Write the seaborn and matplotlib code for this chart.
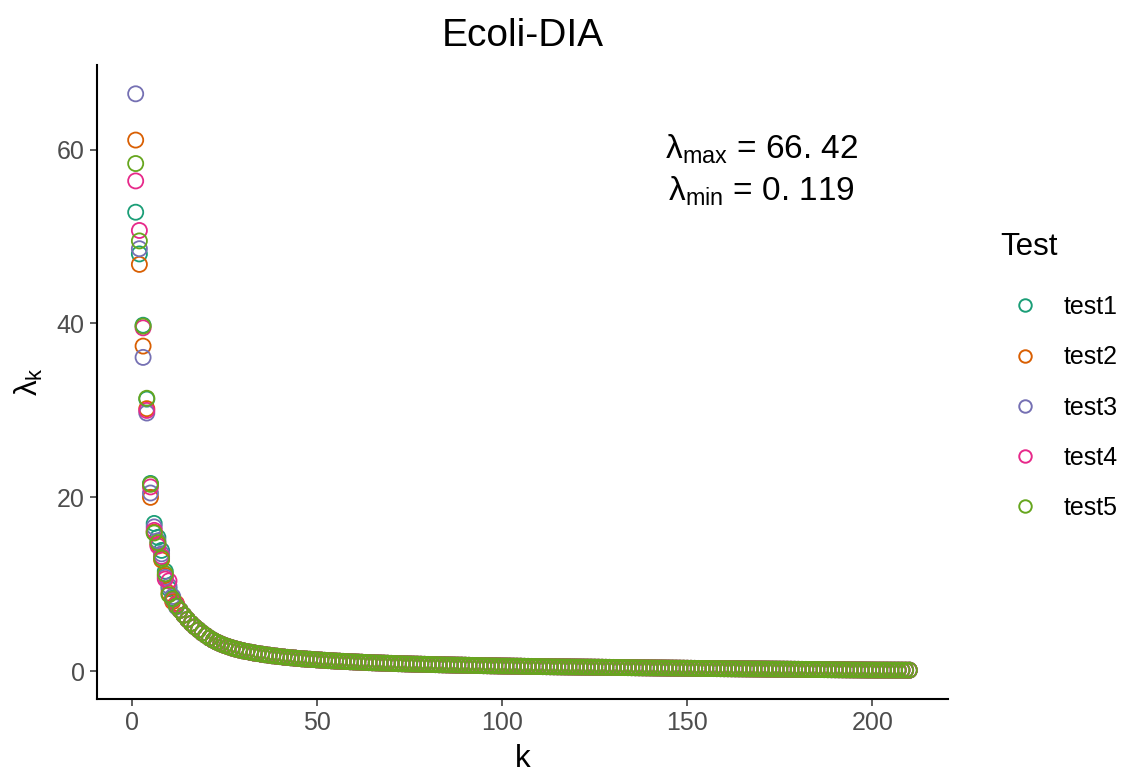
import matplotlib
matplotlib.use("Agg")
import matplotlib.pyplot as plt
from matplotlib.lines import Line2D
import numpy as np
import pandas as pd
import seaborn as sns

# ---- data -----------------------------------------------------------------
tests = ["test1", "test2", "test3", "test4", "test5"]
colors = ["#1B9E77", "#D95F02", "#7570B3", "#E7298A", "#66A61E"]

# leading eigenvalues (k = 1..12), one list per test
head_test1 = [52.8, 48.0, 39.8, 31.3, 21.6, 17.0, 15.4, 13.9, 11.5, 9.5, 8.4, 7.6]
head_test2 = [61.1, 46.8, 37.4, 30.2, 20.0, 16.0, 14.6, 12.8, 11.0, 9.0, 8.0, 7.8]
head_test3 = [66.42, 48.6, 36.1, 29.7, 20.5, 16.6, 15.0, 13.5, 10.8, 9.8, 8.6, 7.4]
head_test4 = [56.4, 50.7, 39.5, 30.0, 21.2, 16.2, 14.4, 13.2, 10.6, 10.4, 8.2, 7.7]
head_test5 = [58.4, 49.5, 39.7, 31.4, 21.5, 15.9, 14.8, 13.0, 11.2, 8.8, 8.3, 7.5]

# remaining eigenvalues (k = 13..210), common to all tests
tail_vals = [
    7.0, 6.45, 5.95, 5.5, 5.1, 4.75, 4.4, 4.1,                         # 13-20
    3.80, 3.55, 3.33, 3.14, 2.97, 2.82, 2.68, 2.56, 2.45, 2.35,        # 21-30
    2.26, 2.18, 2.10, 2.03, 1.96, 1.90, 1.84, 1.78, 1.73, 1.68,        # 31-40
    1.63, 1.59, 1.55, 1.51, 1.47, 1.43, 1.40, 1.37, 1.34, 1.31,        # 41-50
    1.28, 1.25, 1.22, 1.20, 1.17, 1.15, 1.13, 1.11, 1.09, 1.07,        # 51-60
    1.05, 1.03, 1.01, 0.99, 0.975, 0.96, 0.945, 0.93, 0.915, 0.90,     # 61-70
    0.885, 0.87, 0.86, 0.845, 0.835, 0.82, 0.81, 0.80, 0.79, 0.78,     # 71-80
    0.77, 0.76, 0.75, 0.74, 0.73, 0.72, 0.71, 0.70, 0.695, 0.685,      # 81-90
    0.675, 0.665, 0.66, 0.65, 0.64, 0.635, 0.625, 0.62, 0.61, 0.60,    # 91-100
    0.595, 0.59, 0.58, 0.575, 0.57, 0.56, 0.555, 0.55, 0.545, 0.54,    # 101-110
    0.53, 0.525, 0.52, 0.515, 0.51, 0.505, 0.50, 0.495, 0.49, 0.485,   # 111-120
    0.48, 0.475, 0.47, 0.465, 0.46, 0.455, 0.45, 0.445, 0.44, 0.435,   # 121-130
    0.43, 0.425, 0.42, 0.415, 0.41, 0.405, 0.40, 0.395, 0.39, 0.385,   # 131-140
    0.38, 0.375, 0.37, 0.365, 0.36, 0.355, 0.35, 0.345, 0.34, 0.335,   # 141-150
    0.33, 0.325, 0.32, 0.318, 0.314, 0.31, 0.305, 0.30, 0.297, 0.293,  # 151-160
    0.29, 0.286, 0.282, 0.278, 0.274, 0.27, 0.266, 0.262, 0.258, 0.254,  # 161-170
    0.25, 0.246, 0.242, 0.238, 0.234, 0.23, 0.226, 0.222, 0.218, 0.214,  # 171-180
    0.21, 0.206, 0.202, 0.198, 0.194, 0.19, 0.186, 0.182, 0.178, 0.174,  # 181-190
    0.17, 0.166, 0.162, 0.158, 0.154, 0.15, 0.146, 0.142, 0.138, 0.134,  # 191-200
    0.131, 0.13, 0.129, 0.128, 0.127, 0.126, 0.125, 0.123, 0.121, 0.119, # 201-210
]

heads = [head_test1, head_test2, head_test3, head_test4, head_test5]

lambda_max = "66. 42"
lambda_min = "0. 119"

# ---- long-form table ----------------------------------------------------------
frames = []
for name, head in zip(tests, heads):
    vals = head + tail_vals
    frames.append(pd.DataFrame({"k": np.arange(1, len(vals) + 1),
                                "lam": vals, "Test": name}))
df = pd.concat(frames, ignore_index=True)

# ---- style ----------------------------------------------------------------------
sns.set_theme(style="ticks")
plt.rcParams["font.family"] = ["Liberation Sans", "DejaVu Sans"]
plt.rcParams["mathtext.fontset"] = "custom"
plt.rcParams["mathtext.rm"] = "Liberation Sans"
plt.rcParams["mathtext.it"] = "Liberation Sans:italic"
plt.rcParams["mathtext.sf"] = "Liberation Sans"

fig = plt.figure(figsize=(11.27, 7.75), dpi=100)
ax = fig.add_axes([97 / 1127, 1 - 699 / 775, (948 - 97) / 1127, (699 - 65) / 775])

sns.scatterplot(data=df, x="k", y="lam", hue="Test", hue_order=tests,
                palette=colors, s=118, linewidth=1.3, ax=ax, legend=False)

# open circles: outline in the hue colour, no fill
coll = ax.collections[0]
fc = coll.get_facecolors()
coll.set_edgecolors(fc)
coll.set_facecolors("none")

# ggplot-like 5% expansion
ax.set_xlim(1 - 0.05 * 209, 210 + 0.05 * 209)
ax.set_ylim(0.119 - 0.05 * 66.3, 66.42 + 0.05 * 66.3)
ax.set_xticks([0, 50, 100, 150, 200])
ax.set_yticks([0, 20, 40, 60])

for side in ["top", "right"]:
    ax.spines[side].set_visible(False)
for side in ["left", "bottom"]:
    ax.spines[side].set_color("black")
    ax.spines[side].set_linewidth(1.5)
ax.tick_params(axis="both", length=5, width=1.1, color="#333333",
               labelsize=18, labelcolor="#4D4D4D", pad=4)

ax.set_xlabel("k", fontsize=22.5, color="black", labelpad=6)
ax.set_ylabel(r"λ$_\mathrm{k}$", fontsize=22.5, color="black", labelpad=8)
ax.set_title("Ecoli-DIA", fontsize=28, color="black", pad=14)

ax.text(170, 60.0, r"λ$_\mathrm{max}$ = " + lambda_max, ha="center", va="center",
        fontsize=24, color="black")
ax.text(170, 55.2, r"λ$_\mathrm{min}$ = " + lambda_min, ha="center", va="center",
        fontsize=24, color="black")

handles = [Line2D([], [], linestyle="none", marker="o", markersize=9,
                  markerfacecolor="none", markeredgecolor=c, markeredgewidth=1.4)
           for c in colors]
leg = fig.legend(handles, tests, title="Test", loc="upper left",
                 bbox_to_anchor=(990 / 1127, 1 - 222 / 775), frameon=False,
                 fontsize=18, title_fontsize=22.5, labelspacing=1.05,
                 handletextpad=0.55, handlelength=2.0, borderaxespad=0)
leg._legend_box.align = "left"
leg._legend_box.sep = leg._legend_box.sep + 5
leg.get_title().set_color("black")
for t in leg.get_texts():
    t.set_color("black")

fig.savefig("out.png", dpi=100)
